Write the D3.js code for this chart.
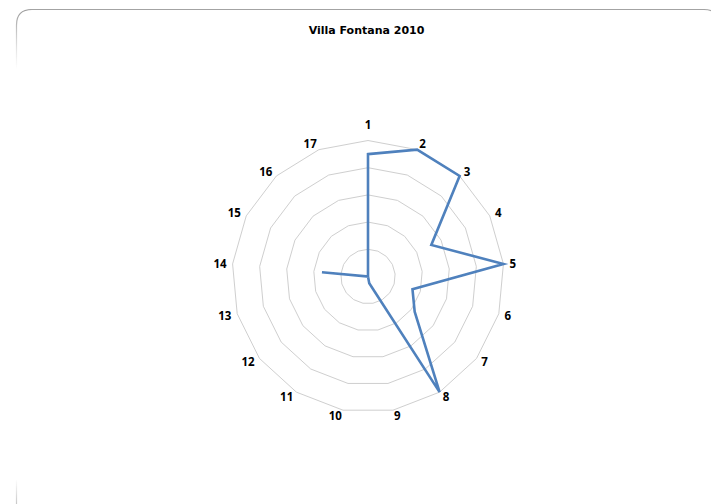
<!DOCTYPE html>
<html>
<head>
<meta charset="utf-8">
<script src="https://cdn.jsdelivr.net/npm/d3@7"></script>
<style>
  html, body { margin: 0; padding: 0; background: #ffffff; }
  svg { display: block; }
</style>
</head>
<body>
<svg id="chart" width="711" height="504"></svg>
<script>
// Radar chart: one series over 17 spokes
const title = "Villa Fontana 2010";
const categories = ["1","2","3","4","5","6","7","8","9","10","11","12","13","14","15","16","17"];
const values = [4.5, 5, 5, 2.6, 5, 1.7, 2.15, 5, 0.25, 0, 0, 0, 0, 1.7, 0, 0, 0];
const ringTicks = [1, 2, 3, 4, 5];

const width = 711, height = 504;
const cx = 368, cy = 276.5, radius = 136;
const labelRadius = 142;

const svg = d3.select("#chart");

// frame: top edge with rounded corners, left edge fading downward
const defs = svg.append("defs");
const grad = defs.append("linearGradient")
  .attr("id", "leftEdge")
  .attr("gradientUnits", "userSpaceOnUse")
  .attr("x1", 0).attr("y1", 10).attr("x2", 0).attr("y2", 504);
grad.append("stop").attr("offset", 0).attr("stop-color", "#9a9a9a").attr("stop-opacity", 1);
grad.append("stop").attr("offset", 0.12).attr("stop-color", "#bbbbbb").attr("stop-opacity", 0);
grad.append("stop").attr("offset", 0.95).attr("stop-color", "#bbbbbb").attr("stop-opacity", 0);
grad.append("stop").attr("offset", 1).attr("stop-color", "#bbbbbb").attr("stop-opacity", 0.8);

svg.append("path")
  .attr("d", "M16.5,504 L16.5,25 Q16.5,9.5 32,9.5")
  .attr("fill", "none").attr("stroke", "url(#leftEdge)").attr("stroke-width", 1.2);
svg.append("path")
  .attr("d", "M30,9.5 L704,9.5 Q716,9.5 720,20")
  .attr("fill", "none").attr("stroke", "#a3a3a3").attr("stroke-width", 1.2);

// title
svg.append("text")
  .attr("x", 366.5).attr("y", 34)
  .attr("text-anchor", "middle")
  .attr("font-family", "DejaVu Sans, sans-serif")
  .attr("font-weight", "bold")
  .attr("font-size", 11)
  .attr("fill", "#000")
  .text(title);

const g = svg.append("g").attr("transform", `translate(${cx},${cy})`);

const r = d3.scaleLinear().domain([0, 5]).range([0, radius]);
const angle = d3.scalePoint().domain(categories).range([0, 2 * Math.PI * (1 - 1 / categories.length)]);

const pt = (cat, v) => {
  const a = angle(cat);
  return [Math.sin(a) * r(v), -Math.cos(a) * r(v)];
};

// concentric polygon gridlines
const ringLine = d3.line().curve(d3.curveLinearClosed);
g.selectAll("path.ring")
  .data(ringTicks)
  .join("path")
  .attr("class", "ring")
  .attr("d", t => ringLine(categories.map(c => pt(c, t))))
  .attr("fill", "none")
  .attr("stroke", "#cfcfcf")
  .attr("stroke-width", 1);

// spoke labels: anchored on the side facing away from the centre
g.selectAll("text.cat")
  .data(categories)
  .join("text")
  .attr("class", "cat")
  .attr("x", c => Math.sin(angle(c)) * labelRadius)
  .attr("y", c => {
    const a = angle(c);
    return -Math.cos(a) * labelRadius - (Math.abs(Math.sin(a)) < 0.01 ? 9.5 : 0);
  })
  .attr("dy", "0.36em")
  .attr("text-anchor", c => {
    const s = Math.sin(angle(c));
    return Math.abs(s) < 0.01 ? "middle" : (s > 0 ? "start" : "end");
  })
  .attr("font-family", "Open Sans, sans-serif")
  .attr("font-weight", "bold")
  .attr("font-size", 11.5)
  .attr("fill", "#000")
  .text(c => c);

// series
g.append("path")
  .attr("d", ringLine(categories.map((c, i) => pt(c, values[i]))))
  .attr("fill", "none")
  .attr("stroke", "#4f81bd")
  .attr("stroke-width", 2.6)
  .attr("stroke-linejoin", "miter");
</script>
</body>
</html>
